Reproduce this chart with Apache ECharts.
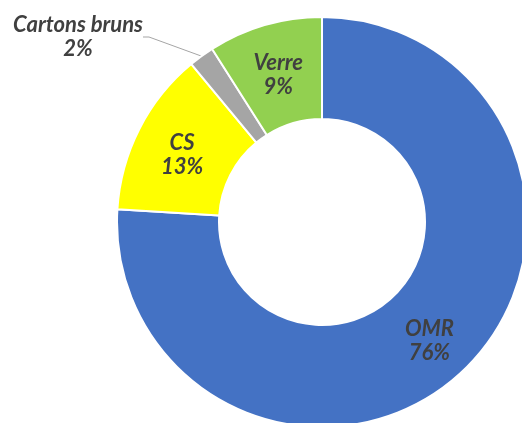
<!DOCTYPE html>
<html><head><meta charset="utf-8">
<script src="https://cdn.jsdelivr.net/npm/echarts@6/dist/echarts.min.js"></script>
<style>html,body{margin:0;padding:0;background:#fff}#c{width:522px;height:423px}</style>
</head><body><div id="c"></div>
<script>
const categories = ['OMR', 'CS', 'Cartons bruns', 'Verre'];
const values = [76, 13, 2, 9];
const colors = ['#4472C4', '#FFFF00', '#A5A5A5', '#92D050'];

const chart = echarts.init(document.getElementById('c'));
const data = categories.map((n, i) => {
  const d = { name: n, value: values[i], itemStyle: { color: colors[i] } };
  if (n === 'Cartons bruns') {
    d.label = { position: 'outside', show: true };
    d.labelLine = { show: true, length: 40, length2: 6, lineStyle: { color: '#A5A5A5', width: 1 } };
  }
  return d;
});
chart.setOption({
  animation: false,
  series: [{
    type: 'pie',
    center: [322, 222],
    radius: [103, 205],
    startAngle: 90,
    clockwise: true,
    data: data,
    itemStyle: { borderColor: '#fff', borderWidth: 2 },
    label: {
      show: true,
      position: 'inside',
      formatter: p => p.name + '\n' + Math.round(p.value) + '%',
      color: '#404040',
      fontFamily: 'Lato',
      fontStyle: 'italic',
      fontWeight: 'bold',
      fontSize: 22,
      lineHeight: 24,
      align: 'center'
    },
    labelLayout: function (params) {
      if (params.dataIndex === 2) {
        return { x: 78, y: 37, align: 'center', verticalAlign: 'middle' };
      }
      return { dy: 4 };
    },
    labelLine: { show: false }
  }]
});
</script></body></html>
